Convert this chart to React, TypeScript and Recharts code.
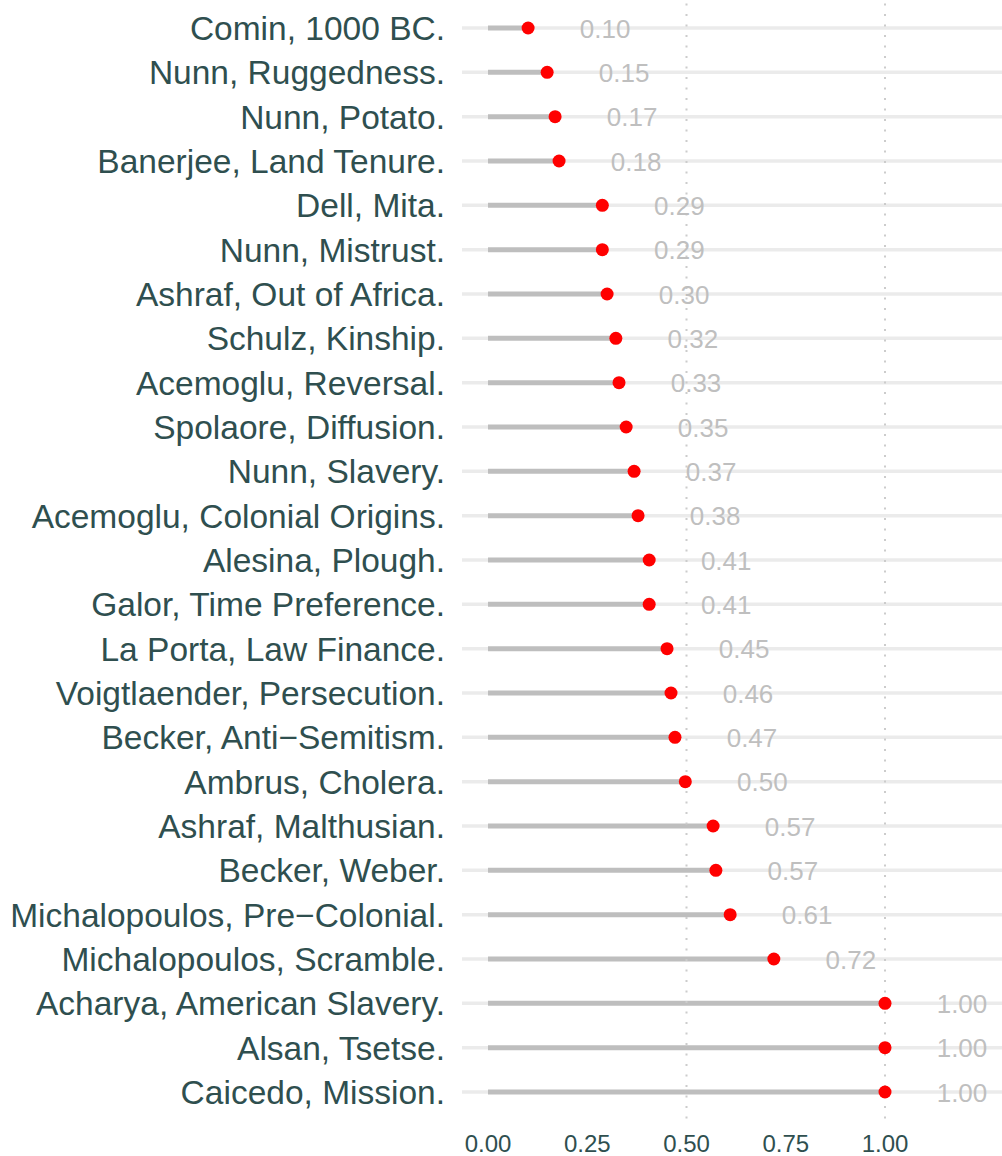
import React from "react";
import { ScatterChart, Scatter, XAxis, YAxis, CartesianGrid, ReferenceLine } from "recharts";

const categories = [
  "Comin, 1000 BC.",
  "Nunn, Ruggedness.",
  "Nunn, Potato.",
  "Banerjee, Land Tenure.",
  "Dell, Mita.",
  "Nunn, Mistrust.",
  "Ashraf, Out of Africa.",
  "Schulz, Kinship.",
  "Acemoglu, Reversal.",
  "Spolaore, Diffusion.",
  "Nunn, Slavery.",
  "Acemoglu, Colonial Origins.",
  "Alesina, Plough.",
  "Galor, Time Preference.",
  "La Porta, Law Finance.",
  "Voigtlaender, Persecution.",
  "Becker, Anti\u2212Semitism.",
  "Ambrus, Cholera.",
  "Ashraf, Malthusian.",
  "Becker, Weber.",
  "Michalopoulos, Pre\u2212Colonial.",
  "Michalopoulos, Scramble.",
  "Acharya, American Slavery.",
  "Alsan, Tsetse.",
  "Caicedo, Mission.",
];

const values = [
  0.101, 0.149, 0.169, 0.179, 0.288, 0.288, 0.3, 0.322, 0.33, 0.348, 0.368, 0.378,
  0.406, 0.406, 0.451, 0.461, 0.471, 0.497, 0.567, 0.574, 0.61, 0.72, 1.0, 1.0, 1.0,
];

const xTicks = [0, 0.25, 0.5, 0.75, 1];
const yTicks = categories.map((_, i) => i);

const data = categories.map((name, i) => ({ idx: i, value: values[i], name }));

const FONT = "'Liberation Sans', Arial, Helvetica, sans-serif";
const DARK = "#2F4F4F";

const LollipopHead = (props: any) => {
  const { cx, cy, payload } = props;
  return (
    <g>
      <circle cx={cx} cy={cy} r={6.5} fill="#ff0000" />
      <text
        x={cx + 77}
        y={cy}
        dy="0.37em"
        textAnchor="middle"
        fontSize={26}
        fontFamily={FONT}
        fill="#bfbfbf"
      >
        {payload.value.toFixed(2)}
      </text>
    </g>
  );
};

export default function App() {
  return (
    <div style={{ position: "absolute", left: 0, top: 0, background: "#fff" }}>
      <ScatterChart
        width={1002}
        height={1156}
        margin={{ top: 1.4, right: 0, bottom: 0, left: 0 }}
      >
        <CartesianGrid
          horizontal
          vertical={false}
          horizontalValues={yTicks}
          stroke="#ebebeb"
          strokeWidth={3.5}
        />
        <XAxis
          type="number"
          dataKey="value"
          domain={[-0.0655, 1.2947]}
          allowDataOverflow
          ticks={xTicks}
          interval={0}
          tickFormatter={(v: number) => v.toFixed(2)}
          axisLine={false}
          tickLine={false}
          tickSize={0}
          tickMargin={16}
          height={37.4}
          tick={{ fill: DARK, fontSize: 24, fontFamily: FONT }}
        />
        <YAxis
          type="number"
          dataKey="idx"
          domain={[-0.6, 24.6]}
          allowDataOverflow
          reversed
          ticks={yTicks}
          interval={0}
          tickFormatter={(i: number) => categories[i] ?? ""}
          axisLine={false}
          tickLine={false}
          tickSize={0}
          tickMargin={17}
          width={462}
          tick={{ fill: DARK, fontSize: 33.5, fontFamily: FONT }}
        />
        {data.map((d) => (
          <ReferenceLine
            key={"seg" + d.idx}
            segment={[
              { x: 0, y: d.idx },
              { x: d.value, y: d.idx },
            ]}
            stroke="#bebebe"
            strokeWidth={5}
          />
        ))}
        <ReferenceLine x={0.5} stroke="#cccccc" strokeWidth={2} strokeDasharray="2 8.5" />
        <ReferenceLine x={1} stroke="#cccccc" strokeWidth={2} strokeDasharray="2 8.5" />
        <Scatter data={data} shape={LollipopHead} isAnimationActive={false} />
      </ScatterChart>
    </div>
  );
}
